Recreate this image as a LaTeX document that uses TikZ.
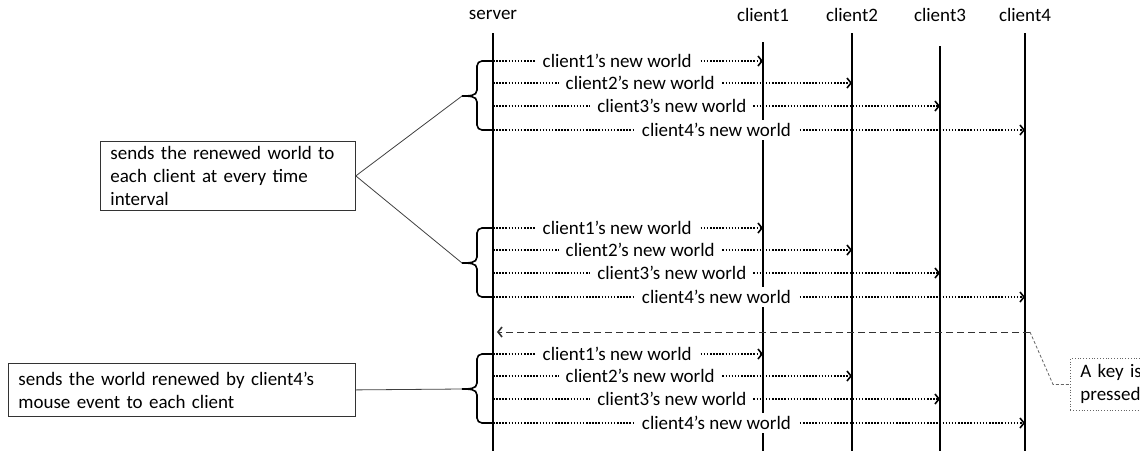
\documentclass[tikz,border=0pt]{standalone}
\usepackage{fontspec}
\setmainfont{Carlito}
\usetikzlibrary{arrows.meta,positioning}

\begin{document}
\begin{tikzpicture}[x=1pt,y=-1pt,
    >={Straight Barb[length=4pt,width=10pt,line width=1.6pt]},
    every node/.style={font=\fontsize{19}{23}\selectfont},
    life/.style={line width=1.8pt},
    msg/.style={->,line width=1.5pt,dash pattern=on 1.5pt off 1.6pt},
    lbl/.style={fill=white,inner xsep=7pt,inner ysep=3pt},
    grp/.style={line width=1.6pt},
    note/.style={rectangle,draw=black!80,line width=0.8pt,align=left,
                 inner xsep=10pt,inner ysep=1pt,anchor=north west},
    link/.style={draw=black!75,line width=0.8pt}]

    \clip (0,0) rectangle (1140,450);

    % lifeline heads
    \node (server)  at (493,15)  {server};
    \node (client1) at (763,15)  {client1};
    \node (client2) at (852,15)  {client2};
    \node (client3) at (940,15)  {client3};
    \node (client4) at (1025,15) {client4};

    \foreach \c/\t in {server/33, client1/42, client2/33, client3/46, client4/33}
        \draw[life] (\c |- 0,\t) -- (\c |- 0,452);

    % the three rounds of messages, each with its brace
    \foreach \g/\y in {a/61, b/228, c/354} {
        \foreach \c/\dy/\p in {client1/0/0.46, client2/22/0.41,
                                client3/45/0.40, client4/69/0.42}
            \draw[msg] (server |- 0,\y+\dy) -- node[lbl,pos=\p] {\c’s new world}
                (\c |- 0,\y+\dy);

        \draw[grp] (493,\y) -- (482,\y) to[out=180,in=90] (477,\y+5)
            -- (477,\y+29) to[out=-90,in=0] (462,\y+35) coordinate (tip\g)
            to[out=0,in=90] (477,\y+41) -- (477,\y+64)
            to[out=-90,in=180] (482,\y+69) -- (493,\y+69);
    }

    \node[note,
          text width=235pt,
          minimum height=69pt] (box1) at (100,141)
          {sends the renewed world to\\each client at every time\\interval};

    \node[note,
          text width=327pt,
          minimum height=53pt] (box2) at (8,363)
          {sends the world renewed by client4’s\\mouse event to each client};

    \draw[link] (tipa) -- (box1.east) -- (tipb);
    \draw[link] (box2.east) -- (tipc);

    % key press on client4
    \coordinate (keyhit) at (1030,332);
    \node[note,
          draw=black!60,
          dotted,
          text width=70pt,
          minimum height=52pt] (keybox) at (1070,358)
          {A key is\\pressed};

    \draw[->,draw=black!80,line width=0.9pt,dash pattern=on 7pt off 4pt,
          shorten >=4pt] (keyhit) -- (server |- keyhit);
    \draw[link,draw=black!60,dash pattern=on 3pt off 2pt]
          (keyhit) -- (keybox.west -| 1053,0) -- (keybox.west);

\end{tikzpicture}
\end{document}
